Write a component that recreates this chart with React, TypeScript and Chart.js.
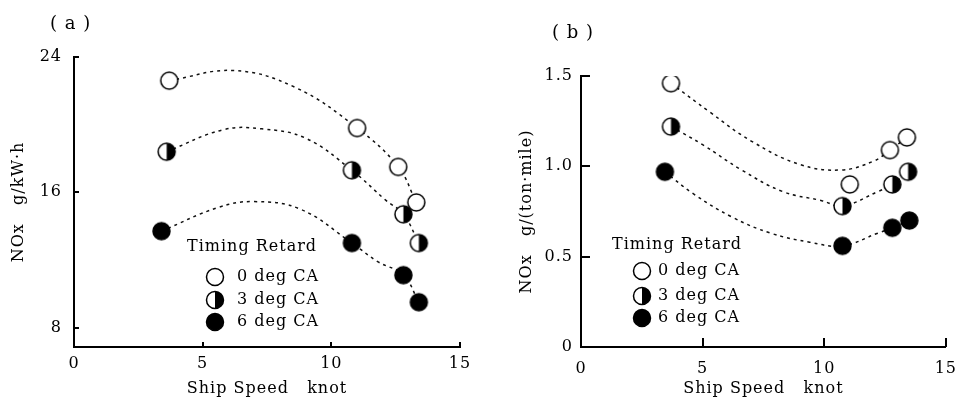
import React, { useEffect, useRef } from "react";
import { Chart, registerables } from "chart.js";

Chart.register(...registerables);

// ---------- data ----------
const speedTicks = [0, 5, 10, 15];
const noxTicksA = [8, 16, 24];
const noxTicksB = [0, 0.5, 1.0, 1.5];
const noxTickLabelsB = ["0", "0.5", "1.0", "1.5"];

const legendTitle = "Timing Retard";
const seriesNames = ["0 deg CA", "3 deg CA", "6 deg CA"];

// panel (a): NOx g/kWh
const speedA0 = [3.7, 11.0, 12.6, 13.3];
const noxA0 = [22.6, 19.8, 17.5, 15.4];
const speedA3 = [3.6, 10.8, 12.8, 13.4];
const noxA3 = [18.4, 17.3, 14.7, 13.0];
const speedA6 = [3.4, 10.8, 12.8, 13.4];
const noxA6 = [13.7, 13.0, 11.1, 9.5];

// fitted dashed curves (a)
const curveA0x = [3.7, 6.2, 8.6, 11.0, 12.6, 13.3];
const curveA0y = [22.6, 23.2, 22.2, 19.8, 17.5, 15.4];
const curveA3x = [3.6, 5.8, 7.3, 9.0, 10.8, 12.1, 12.8, 13.4];
const curveA3y = [18.4, 19.7, 19.75, 19.2, 17.3, 15.55, 14.7, 13.0];
const curveA6x = [3.4, 5.6, 7.0, 8.8, 10.8, 11.8, 12.8, 13.4];
const curveA6y = [13.7, 15.1, 15.45, 15.0, 13.0, 11.9, 11.1, 9.5];

// panel (b): NOx g/(ton·mile)
const speedB0 = [3.7, 11.05, 12.7, 13.4];
const noxB0 = [1.46, 0.9, 1.09, 1.16];
const speedB3 = [3.7, 10.75, 12.8, 13.45];
const noxB3 = [1.22, 0.78, 0.9, 0.97];
const speedB6 = [3.45, 10.75, 12.8, 13.5];
const noxB6 = [0.97, 0.56, 0.66, 0.7];

const curveB0x = [3.7, 5.3, 7.0, 9.0, 10.7, 12.05, 12.7, 13.4];
const curveB0y = [1.46, 1.3, 1.14, 1.01, 0.98, 1.03, 1.09, 1.16];
const curveB3x = [3.7, 5.0, 6.6, 8.3, 9.9, 10.75, 12.2, 12.8, 13.45];
const curveB3y = [1.22, 1.12, 0.98, 0.86, 0.81, 0.78, 0.86, 0.9, 0.97];
const curveB6x = [3.45, 4.6, 6.2, 7.8, 9.4, 10.75, 12.2, 12.8, 13.5];
const curveB6y = [0.97, 0.85, 0.72, 0.63, 0.58, 0.56, 0.63, 0.66, 0.7];

// ---------- styling ----------
const FONT = "'DejaVu Serif', 'Liberation Serif', serif";
const MARKER_R = 8.5;
type Kind = "open" | "half" | "filled";
const kinds: Kind[] = ["open", "half", "filled"];

function drawMarker(ctx: CanvasRenderingContext2D, kind: Kind, x: number, y: number, r: number) {
  ctx.save();
  ctx.beginPath();
  ctx.arc(x, y, r, 0, Math.PI * 2);
  ctx.fillStyle = kind === "filled" ? "#000" : "#fff";
  ctx.fill();
  if (kind === "half") {
    ctx.beginPath();
    ctx.moveTo(x, y - r);
    ctx.arc(x, y, r, -Math.PI / 2, Math.PI / 2);
    ctx.closePath();
    ctx.fillStyle = "#000";
    ctx.fill();
  }
  ctx.beginPath();
  ctx.arc(x, y, r, 0, Math.PI * 2);
  ctx.lineWidth = 1.5;
  ctx.strokeStyle = "#000";
  ctx.stroke();
  ctx.restore();
}

function markerCanvas(kind: Kind): HTMLCanvasElement {
  const s = Math.ceil(MARKER_R * 2 + 4);
  const c = document.createElement("canvas");
  c.width = s;
  c.height = s;
  const g = c.getContext("2d")!;
  drawMarker(g, kind, s / 2, s / 2, MARKER_R);
  return c;
}

const decoPlugin = {
  id: "deco",
  beforeDraw(chart: any) {
    try {
      chart.ctx.letterSpacing = "1px";
    } catch (e) {}
  },
  afterDraw(chart: any, _args: any, opts: any) {
    const { ctx, chartArea, scales } = chart;
    ctx.save();
    ctx.strokeStyle = "#000";
    ctx.lineWidth = 2;
    // inward tick marks
    for (const v of opts.xTicks) {
      if (v === 0) continue;
      const px = Math.round(scales.x.getPixelForValue(v));
      ctx.beginPath();
      ctx.moveTo(px, chartArea.bottom);
      ctx.lineTo(px, chartArea.bottom - opts.tickLen);
      ctx.stroke();
    }
    for (const v of opts.yTicks) {
      if (v <= scales.y.min) continue;
      const py = Math.round(scales.y.getPixelForValue(v));
      ctx.beginPath();
      ctx.moveTo(chartArea.left, py);
      ctx.lineTo(chartArea.left + opts.tickLen, py);
      ctx.stroke();
    }
    ctx.fillStyle = "#000";
    ctx.textBaseline = "middle";
    ctx.textAlign = "left";
    // panel label
    ctx.font = `18px ${FONT}`;
    ctx.fillText(opts.label, opts.labelX, opts.labelY);
    // legend
    ctx.font = `16px ${FONT}`;
    const lg = opts.legend;
    ctx.fillText(legendTitle, lg.titleX, lg.titleY);
    seriesNames.forEach((name, i) => {
      drawMarker(ctx, kinds[i], lg.markerX, lg.rows[i], MARKER_R);
      ctx.fillStyle = "#000";
      ctx.fillText(name, lg.textX, lg.rows[i]);
    });
    ctx.restore();
  },
};

type Panel = {
  label: string;
  labelX: number;
  labelY: number;
  pts: [number[], number[]][];
  curves: [number[], number[]][];
  yMin: number;
  yMax: number;
  yTicks: number[];
  yLabel: (v: number) => string;
  yTitle: string;
  yAxisWidth: number;
  yTitlePad: number;
  yTickPad: number;
  xTickPad: number;
  padTop: number;
  padRight: number;
  tickLen: number;
  legend: { titleX: number; titleY: number; markerX: number; textX: number; rows: number[] };
};

const panelA: Panel = {
  label: "( a )",
  labelX: 50,
  labelY: 24,
  pts: [
    [speedA0, noxA0],
    [speedA3, noxA3],
    [speedA6, noxA6],
  ],
  curves: [
    [curveA0x, curveA0y],
    [curveA3x, curveA3y],
    [curveA6x, curveA6y],
  ],
  yMin: 6.85,
  yMax: 24,
  yTicks: noxTicksA,
  yLabel: (v) => String(v),
  yTitle: "NOx   g/kW·h",
  yAxisWidth: 74,
  yTitlePad: 9,
  yTickPad: 12,
  xTickPad: 7,
  padTop: 57,
  padRight: 24,
  tickLen: 5,
  legend: { titleX: 187, titleY: 247, markerX: 215, textX: 237, rows: [277, 300, 322] },
};

const panelB: Panel = {
  label: "( b )",
  labelX: 68,
  labelY: 33,
  pts: [
    [speedB0, noxB0],
    [speedB3, noxB3],
    [speedB6, noxB6],
  ],
  curves: [
    [curveB0x, curveB0y],
    [curveB3x, curveB3y],
    [curveB6x, curveB6y],
  ],
  yMin: 0,
  yMax: 1.5,
  yTicks: noxTicksB,
  yLabel: (v) => noxTickLabelsB[noxTicksB.indexOf(v)] ?? String(v),
  yTitle: "NOx   g/(ton·mile)",
  yAxisWidth: 97,
  yTitlePad: 33,
  yTickPad: 8,
  xTickPad: 12,
  padTop: 76,
  padRight: 11,
  tickLen: 9,
  legend: { titleX: 128, titleY: 245, markerX: 158, textX: 174, rows: [271, 296, 318] },
};

function buildConfig(p: Panel): any {
  const pointSets = p.pts.map(([xs, ys], i) => ({
    label: seriesNames[i],
    data: xs.map((x, j) => ({ x, y: ys[j] })),
    pointStyle: markerCanvas(kinds[i]),
    pointRadius: MARKER_R,
    showLine: false,
    order: 0,
  }));
  const curveSets = p.curves.map(([xs, ys], i) => ({
    label: seriesNames[i] + " fit",
    data: xs.map((x, j) => ({ x, y: ys[j] })),
    showLine: true,
    pointRadius: 0,
    borderColor: "#111",
    borderWidth: 1.5,
    borderDash: [3, 4],
    tension: 0.4,
    fill: false,
    order: 1,
  }));
  return {
    type: "scatter",
    data: { datasets: [...pointSets, ...curveSets] },
    options: {
      animation: false,
      responsive: false,
      devicePixelRatio: 1,
      layout: { padding: { top: p.padTop, right: p.padRight, left: 0, bottom: 0 } },
      plugins: {
        legend: { display: false },
        tooltip: { enabled: false },
        deco: {
          xTicks: speedTicks,
          yTicks: p.yTicks,
          tickLen: p.tickLen,
          label: p.label,
          labelX: p.labelX,
          labelY: p.labelY,
          legend: p.legend,
        },
      },
      scales: {
        x: {
          type: "linear",
          min: 0,
          max: 15,
          grid: { display: false, drawTicks: false },
          border: { display: true, color: "#000", width: 2 },
          afterBuildTicks: (s: any) => {
            s.ticks = speedTicks.map((value) => ({ value }));
          },
          afterFit: (s: any) => {
            s.height = 58;
          },
          ticks: {
            color: "#000",
            padding: p.xTickPad,
            font: { family: FONT, size: 16 },
            maxRotation: 0,
            autoSkip: false,
            callback: (v: number) => String(v),
          },
          title: {
            display: true,
            text: "Ship Speed   knot",
            color: "#000",
            font: { family: FONT, size: 16 },
            padding: { top: 0, bottom: 7 },
          },
        },
        y: {
          type: "linear",
          min: p.yMin,
          max: p.yMax,
          grid: { display: false, drawTicks: false },
          border: { display: true, color: "#000", width: 2 },
          afterBuildTicks: (s: any) => {
            s.ticks = p.yTicks.map((value) => ({ value }));
          },
          afterFit: (s: any) => {
            s.width = p.yAxisWidth;
          },
          ticks: {
            color: "#000",
            padding: p.yTickPad,
            font: { family: FONT, size: 16 },
            autoSkip: false,
            callback: (v: number) => p.yLabel(v),
          },
          title: {
            display: true,
            text: p.yTitle,
            color: "#000",
            font: { family: FONT, size: 16 },
            padding: { top: p.yTitlePad, bottom: 0 },
          },
        },
      },
    },
    plugins: [decoPlugin],
  };
}

function ChartPanel({ panel, left }: { panel: Panel; left: number }) {
  const ref = useRef<HTMLCanvasElement>(null);
  useEffect(() => {
    const chart = new Chart(ref.current!, buildConfig(panel));
    return () => chart.destroy();
  }, [panel]);
  return (
    <canvas
      ref={ref}
      width={484}
      height={405}
      style={{ position: "absolute", left, top: 0, width: 484, height: 405 }}
    />
  );
}

export default function App() {
  return (
    <div style={{ position: "absolute", left: 0, top: 0, width: 968, height: 405, background: "#fff" }}>
      <ChartPanel panel={panelA} left={0} />
      <ChartPanel panel={panelB} left={484} />
    </div>
  );
}
